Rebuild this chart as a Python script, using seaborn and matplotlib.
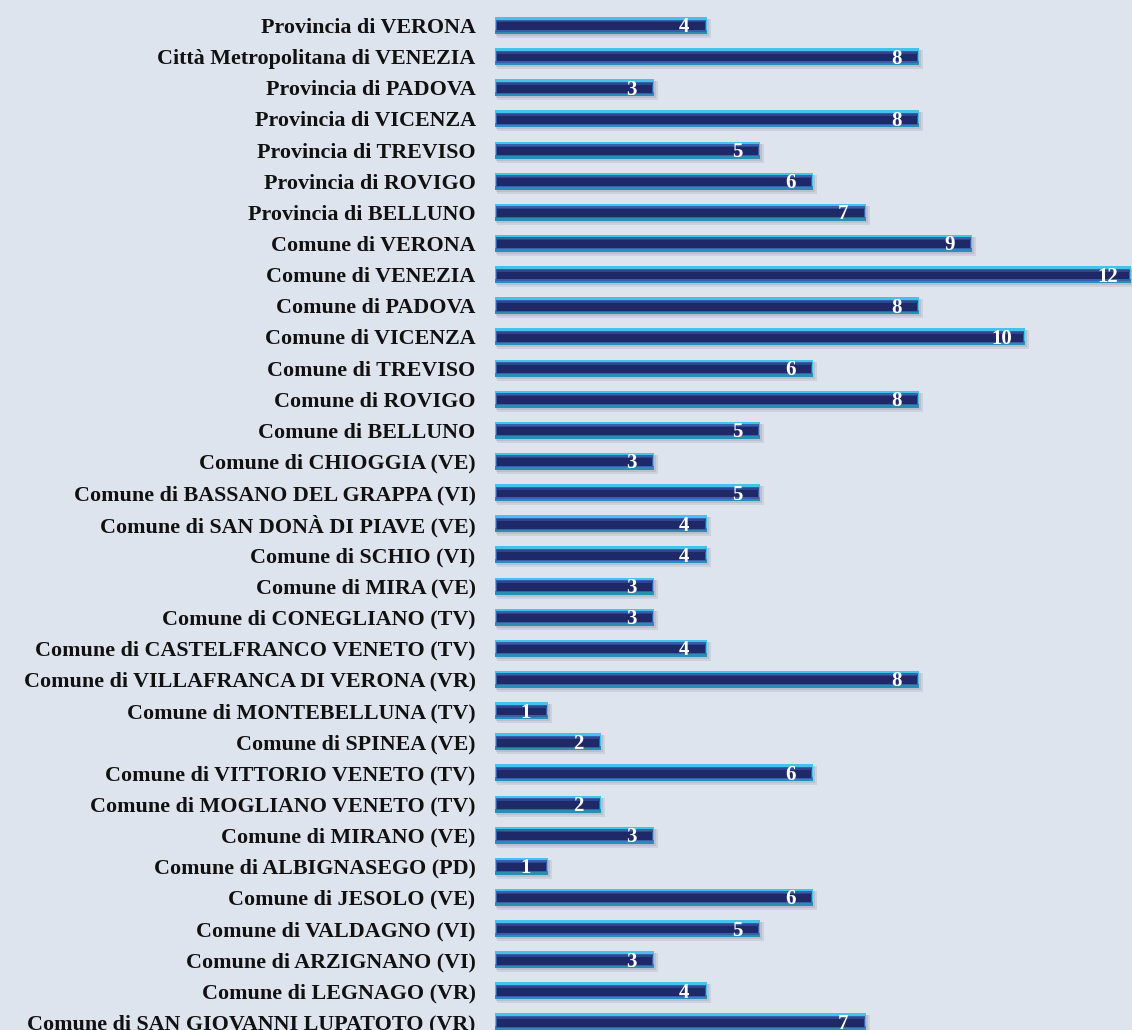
import matplotlib
matplotlib.use("Agg")
import matplotlib.pyplot as plt
import seaborn as sns
import pandas as pd
import numpy as np

categories = [
    "Provincia di VERONA", "Città Metropolitana di VENEZIA", "Provincia di PADOVA",
    "Provincia di VICENZA", "Provincia di TREVISO", "Provincia di ROVIGO",
    "Provincia di BELLUNO", "Comune di VERONA", "Comune di VENEZIA", "Comune di PADOVA",
    "Comune di VICENZA", "Comune di TREVISO", "Comune di ROVIGO", "Comune di BELLUNO",
    "Comune di CHIOGGIA (VE)", "Comune di BASSANO DEL GRAPPA (VI)",
    "Comune di SAN DONÀ DI PIAVE (VE)", "Comune di SCHIO (VI)", "Comune di MIRA (VE)",
    "Comune di CONEGLIANO (TV)", "Comune di CASTELFRANCO VENETO (TV)",
    "Comune di VILLAFRANCA DI VERONA (VR)", "Comune di MONTEBELLUNA (TV)",
    "Comune di SPINEA (VE)", "Comune di VITTORIO VENETO (TV)",
    "Comune di MOGLIANO VENETO (TV)", "Comune di MIRANO (VE)",
    "Comune di ALBIGNASEGO (PD)", "Comune di JESOLO (VE)", "Comune di VALDAGNO (VI)",
    "Comune di ARZIGNANO (VI)", "Comune di LEGNAGO (VR)",
    "Comune di SAN GIOVANNI LUPATOTO (VR)",
]
values = [4, 8, 3, 8, 5, 6, 7, 9, 12, 8, 10, 6, 8, 5, 3, 5, 4, 4, 3, 3, 4, 8, 1, 2, 6,
          2, 3, 1, 6, 5, 3, 4, 7]

df = pd.DataFrame({"cat": categories, "val": values})
n = len(categories)
pos = np.arange(n)
vals = np.array(values, dtype=float)

bg = "#DEE4EE"
W, H = 1132, 1030
step = 31.14
top_c = 25.5
fig = plt.figure(figsize=(W / 100, H / 100), dpi=100, facecolor=bg)
ax = fig.add_axes([495 / W, 0, 637 / W, 1])
ax.set_facecolor(bg)

u = 1 / step  # one pixel in y data units
hb = 17 * u

# soft shadow
ax.barh(pos + 3 * u, vals + 0.04, left=0.03, height=hb + 2 * u, color="#a9b1c2", alpha=0.35, zorder=1)
ax.barh(pos + 2 * u, vals + 0.02, left=0.02, height=hb, color="#a3abbd", alpha=0.45, zorder=1)
# main bar via seaborn (cyan edge layer)
sns.barplot(data=df, y="cat", x="val", orient="h", color="#45C2E8", width=hb,
            saturation=1, ax=ax, zorder=2)
# bottom teal edge
ax.barh(pos + 6.5 * u, vals, height=4 * u, color="#2A8EB2", zorder=3)
# blue bevel band
ax.barh(pos + 0.0 * u, vals - 0.02, left=0.01, height=hb - 5 * u, color="#3460AE", zorder=3)
# dark core
ax.barh(pos + 0.8 * u, vals - 0.07, left=0.04, height=8 * u, color="#1F2967", zorder=4)
ax.barh(pos - 3.8 * u, vals - 0.05, left=0.03, height=1.5 * u, color="#2C4690", zorder=4)

for i, v in enumerate(values):
    ax.text(v - 0.43, i + 2 * u, str(v), ha="center", va="center", color="white",
            fontsize=15, fontweight="bold", family="Liberation Serif", zorder=5)

ax.set_xlim(0, 12.02)
ax.set_ylim((H - top_c) / step, -top_c / step)
ax.set_xlabel("")
ax.set_ylabel("")
ax.set_xticks([])
ax.tick_params(axis="y", length=0, pad=14)
for lab in ax.get_yticklabels():
    lab.set_fontfamily("Liberation Serif")
    lab.set_fontweight("bold")
    lab.set_fontsize(15.8)
    lab.set_color("#111111")
for s in ax.spines.values():
    s.set_visible(False)

fig.savefig("out.png", dpi=100, facecolor=bg)
